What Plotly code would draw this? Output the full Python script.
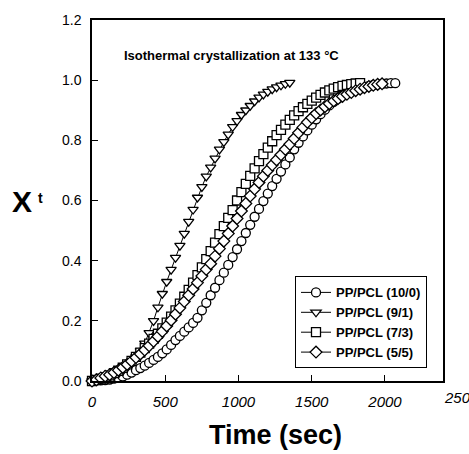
import plotly.graph_objects as go

# ---- data ----
series_names = ["PP/PCL (10/0)", "PP/PCL (9/1)", "PP/PCL (7/3)", "PP/PCL (5/5)"]
series_symbols = ["circle", "triangle-down", "square", "diamond"]

time_step_sec = 30

xt_10_0 = [0.0, 0.001, 0.002, 0.003, 0.005, 0.008, 0.011, 0.015, 0.021, 0.028,
           0.036, 0.043, 0.051, 0.06, 0.07, 0.08, 0.092, 0.105, 0.12, 0.136,
           0.15, 0.164, 0.178, 0.193, 0.21, 0.235, 0.26, 0.285, 0.31, 0.335,
           0.36, 0.386, 0.412, 0.438, 0.465, 0.492, 0.519, 0.546, 0.572, 0.598,
           0.623, 0.648, 0.672, 0.696, 0.72, 0.743, 0.77, 0.792, 0.813, 0.833,
           0.852, 0.87, 0.887, 0.902, 0.916, 0.928, 0.939, 0.948, 0.956, 0.963,
           0.969, 0.974, 0.978, 0.981, 0.984, 0.986, 0.988, 0.989, 0.99, 0.99]

xt_9_1 = [0.0, 0.002, 0.004, 0.008, 0.012, 0.018, 0.025, 0.034, 0.045, 0.06,
          0.08, 0.10, 0.125, 0.16, 0.20, 0.245, 0.29, 0.33, 0.37, 0.41,
          0.45, 0.49, 0.53, 0.57, 0.61, 0.645, 0.68, 0.71, 0.74, 0.77,
          0.795, 0.82, 0.845, 0.865, 0.885, 0.90, 0.915, 0.93, 0.943, 0.953,
          0.962, 0.970, 0.977, 0.983, 0.988, 0.992]

xt_7_3 = [0.0, 0.004, 0.008, 0.013, 0.019, 0.026, 0.034, 0.044, 0.055, 0.067,
          0.08, 0.094, 0.109, 0.124, 0.14, 0.157, 0.175, 0.194, 0.214, 0.235,
          0.257, 0.28, 0.303, 0.327, 0.352, 0.378, 0.405, 0.432, 0.46, 0.488,
          0.515, 0.542, 0.568, 0.60, 0.628, 0.655, 0.682, 0.707, 0.731, 0.754,
          0.776, 0.797, 0.817, 0.835, 0.852, 0.868, 0.883, 0.897, 0.91, 0.921,
          0.932, 0.942, 0.951, 0.959, 0.966, 0.972, 0.977, 0.981, 0.984, 0.987,
          0.989, 0.99]

xt_5_5 = [0.0, 0.004, 0.01, 0.016, 0.021, 0.028, 0.036, 0.045, 0.055, 0.066,
          0.078, 0.09, 0.103, 0.117, 0.132, 0.148, 0.165, 0.183, 0.202, 0.222,
          0.243, 0.264, 0.285, 0.306, 0.327, 0.349, 0.371, 0.39, 0.415, 0.44,
          0.465, 0.49, 0.515, 0.54, 0.565, 0.59, 0.615, 0.638, 0.66, 0.681,
          0.70, 0.718, 0.735, 0.752, 0.77, 0.787, 0.806, 0.825, 0.843, 0.86,
          0.875, 0.889, 0.901, 0.912, 0.922, 0.931, 0.939, 0.946, 0.953, 0.959,
          0.965, 0.97, 0.975, 0.979, 0.983, 0.986, 0.988]

series_values = [xt_10_0, xt_9_1, xt_7_3, xt_5_5]

x_tick_vals = [0, 500, 1000, 1500, 2000]
x_tick_text = ["0", "500", "1000", "1500", "2000"]
y_tick_vals = [0.0, 0.2, 0.4, 0.6, 0.8, 1.0, 1.2]

FONT = "Liberation Sans, Arial, sans-serif"

fig = go.Figure()
for name, sym, vals in zip(series_names, series_symbols, series_values):
    times = [i * time_step_sec for i in range(len(vals))]
    fig.add_trace(go.Scatter(
        x=times, y=vals, name=name, mode="lines+markers",
        line=dict(color="black", width=1),
        marker=dict(symbol=sym, size=9, color="white",
                    line=dict(color="black", width=1.3)),
        cliponaxis=False,
    ))

# plot-area in pixels: left 92, right 443, top 15, bottom 381
L, R, T, B = 92, 443, 15, 381
W, H = 469, 454


def px(xp):
    return (xp - L) / (R - L)


def py(yp):
    return (B - yp) / (B - T)


fig.update_layout(
    width=W, height=H,
    margin=dict(l=L, r=W - R, t=T, b=H - B, pad=0),
    paper_bgcolor="white", plot_bgcolor="white",
    font=dict(family=FONT, color="black"),
    showlegend=True,
    legend=dict(
        x=px(295), y=py(275), xanchor="left", yanchor="top",
        bordercolor="black", borderwidth=1, bgcolor="white",
        font=dict(family=FONT, size=13, color="black", weight="bold"),
        itemwidth=30, tracegroupgap=0,
    ),
    xaxis=dict(
        range=[0, 2396], tickvals=x_tick_vals, ticktext=x_tick_text,
        ticks="inside", ticklen=6, tickwidth=1, tickcolor="black",
        showline=True, linecolor="black", linewidth=1.5, mirror=True,
        showgrid=False, zeroline=False,
        tickfont=dict(family=FONT, size=15, style="italic"),
        ticklabelstandoff=6,
    ),
    yaxis=dict(
        range=[0, 1.2], tickvals=y_tick_vals, tickformat=".1f",
        ticks="inside", ticklen=6, tickwidth=1, tickcolor="black",
        showline=True, linecolor="black", linewidth=1.5, mirror=True,
        showgrid=False, zeroline=False,
        tickfont=dict(family=FONT, size=14),
        ticklabelstandoff=6,
    ),
)

annotations = [
    dict(text="Time (sec)", x=px(275), y=py(436), xref="paper", yref="paper",
         showarrow=False, font=dict(family=FONT, size=27, weight="bold"),
         xanchor="center", yanchor="middle"),
    dict(text="X", x=px(22), y=py(199), xref="paper", yref="paper",
         showarrow=False, font=dict(family=FONT, size=30, weight="bold"),
         xanchor="center", yanchor="middle"),
    dict(text="t", x=px(40), y=py(195), xref="paper", yref="paper",
         showarrow=False, font=dict(family=FONT, size=14, weight="bold"),
         xanchor="center", yanchor="middle"),
    dict(text="Isothermal crystallization at 133 °C", x=px(122), y=py(51),
         xref="paper", yref="paper", showarrow=False,
         font=dict(family=FONT, size=13, weight="bold"),
         xanchor="left", yanchor="middle"),
    dict(text="2500", x=px(461), y=py(398), xref="paper", yref="paper",
         showarrow=False, font=dict(family=FONT, size=15, style="italic"),
         xanchor="center", yanchor="middle"),
]
fig.update_layout(annotations=annotations)

fig.write_html("out.html", config={"displayModeBar": False},
               post_script="document.body.style.margin='0';")
